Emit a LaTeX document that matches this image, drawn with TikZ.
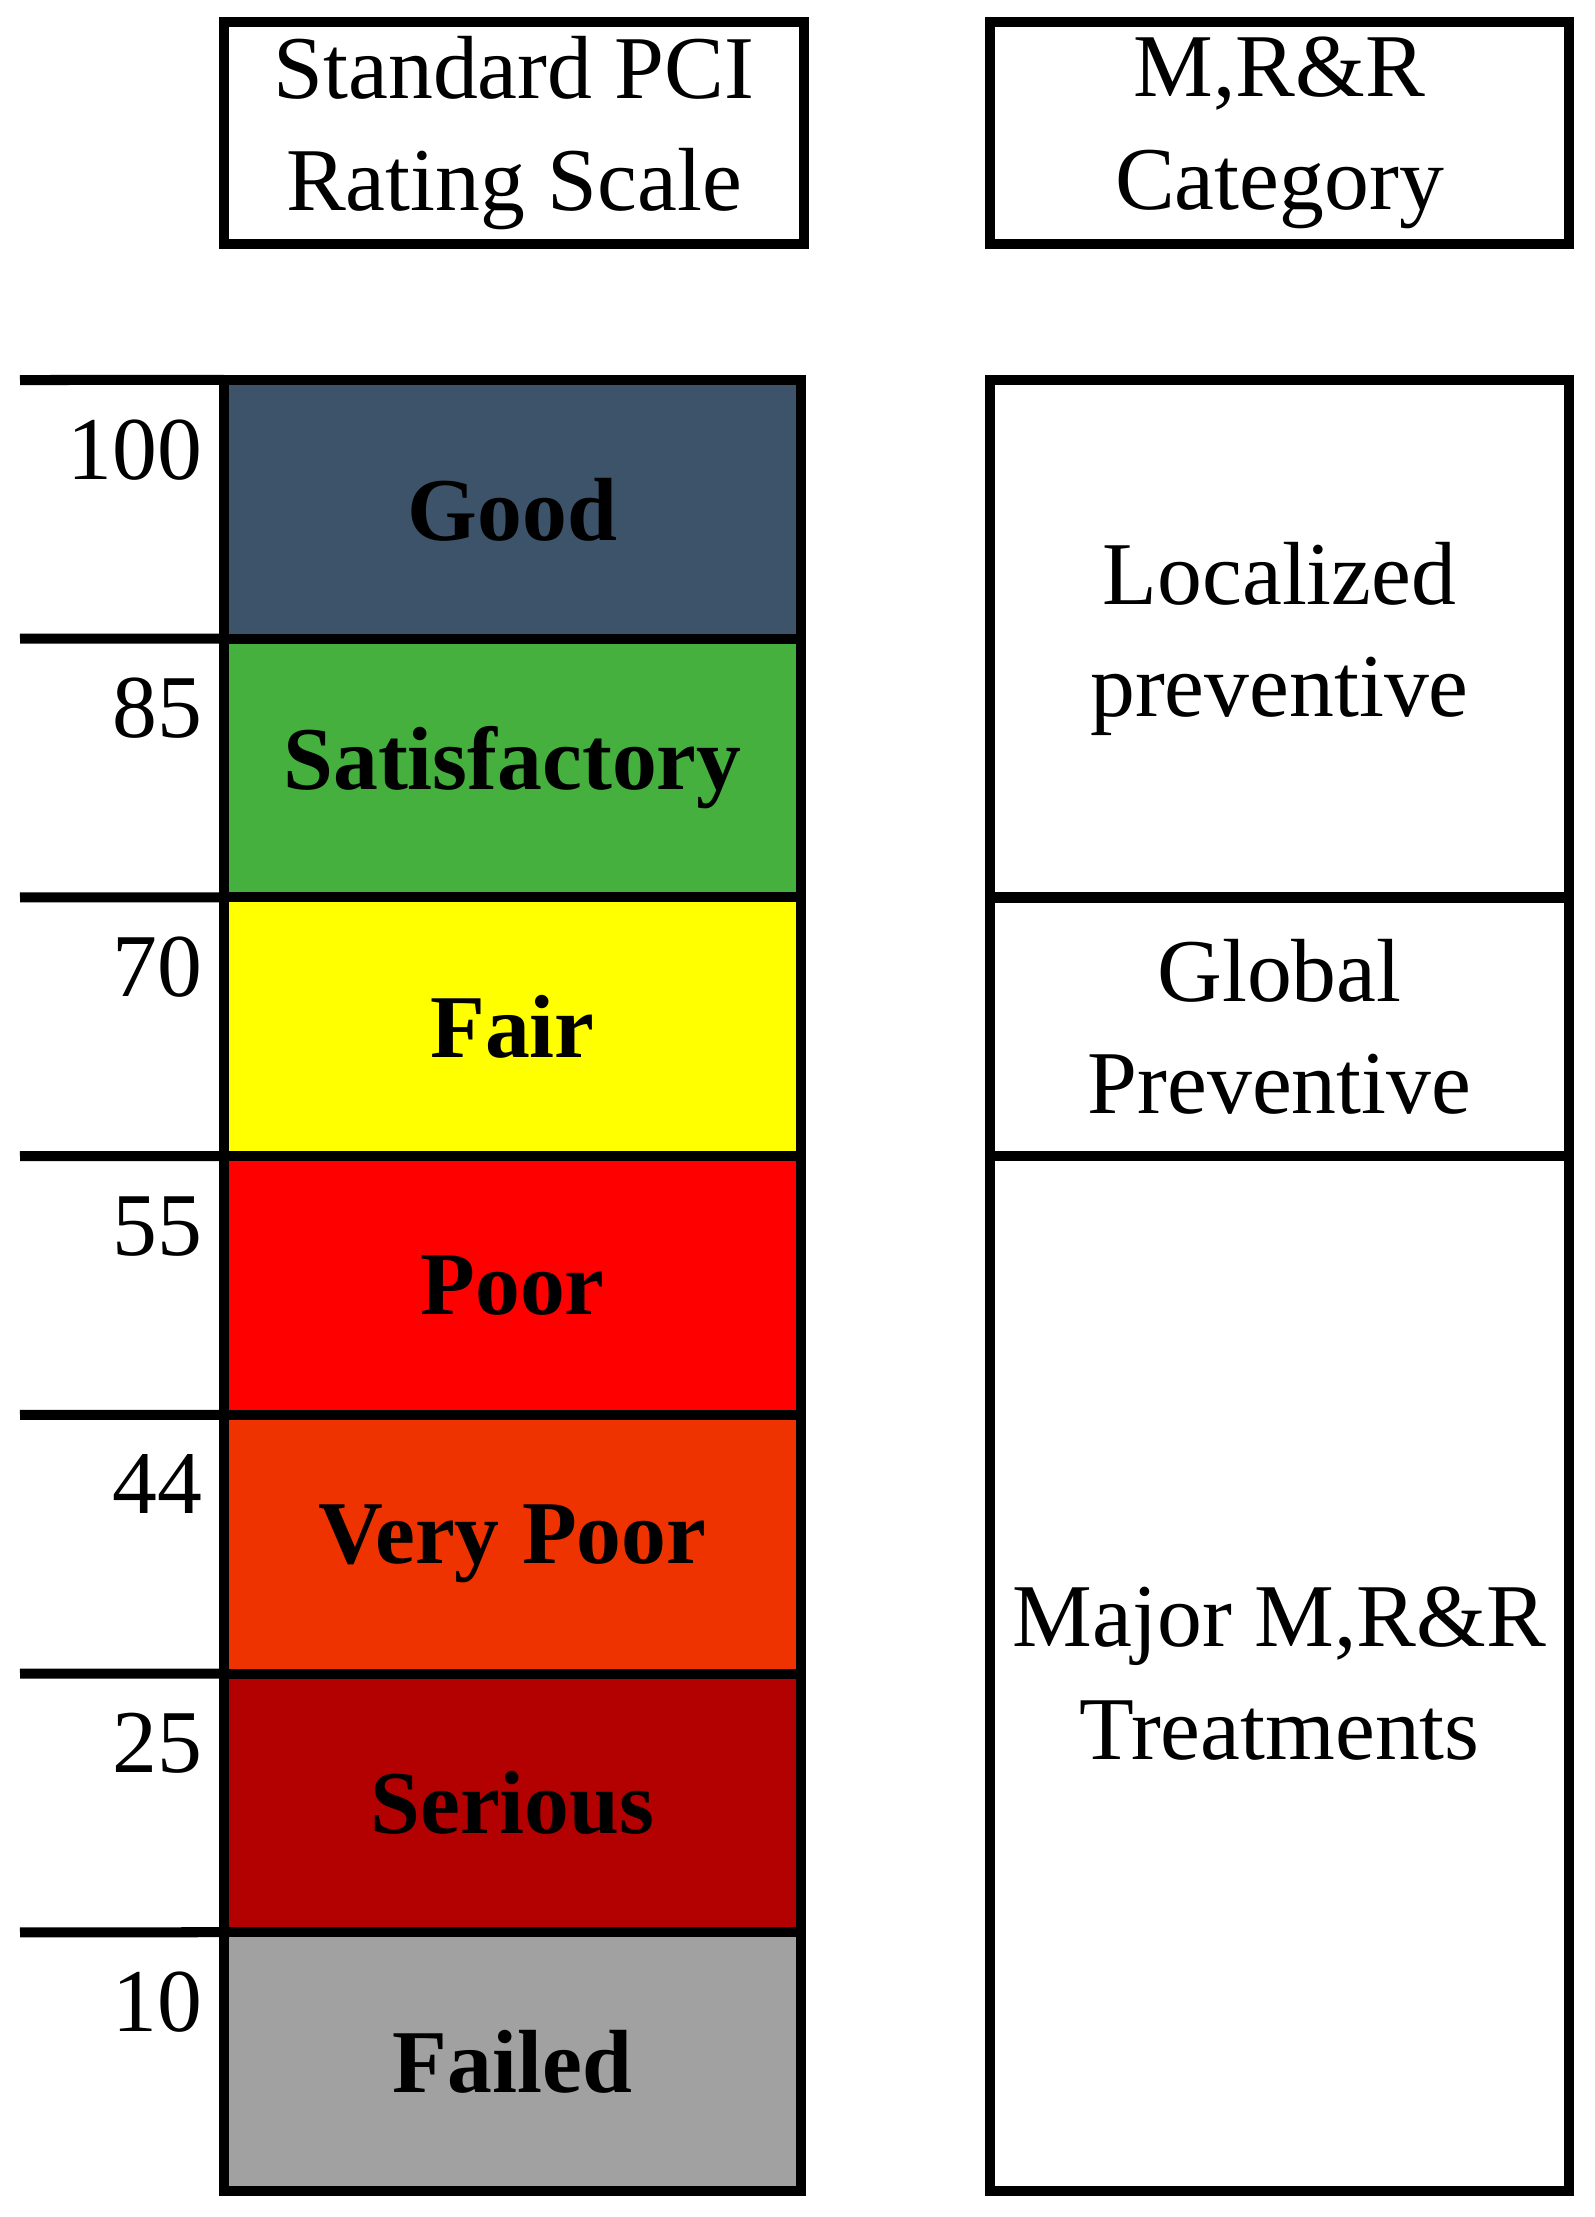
\documentclass[tikz,border=0pt]{standalone}
\usepackage{fontspec}
\setmainfont{Liberation Serif}
\definecolor{cgood}{RGB}{60,83,106}
\definecolor{csat}{RGB}{69,176,62}
\definecolor{cfair}{RGB}{255,255,0}
\definecolor{cpoor}{RGB}{255,0,0}
\definecolor{cvpoor}{RGB}{238,51,0}
\definecolor{cserious}{RGB}{179,0,0}
\definecolor{cfailed}{RGB}{161,161,161}
\begin{document}
\begin{tikzpicture}[x=0.01cm,y=-0.01cm,line width=0.1cm,
  bigtext/.style={font=\fontsize{25.5}{32}\selectfont},
  headbox/.style={draw, rectangle, inner sep=0pt, outer sep=0pt, minimum height=2.22cm, align=center, bigtext},
  band/.style={draw, rectangle, inner sep=0pt, outer sep=0pt, minimum width=5.77cm, minimum height=2.5871cm, font=\fontsize{25.5}{32}\selectfont\bfseries},
  catbox/.style={draw, rectangle, inner sep=0pt, outer sep=0pt, minimum width=5.79cm, align=center, bigtext},
  num/.style={anchor=base east, inner sep=0pt, bigtext},
  tickline/.style={line width=0.1cm}]
\useasboundingbox (0,0) rectangle (1595,2217);
% headers
\node[headbox, minimum width=5.8cm] (h1) at (514,133) {Standard PCI\\Rating Scale};
\node[headbox, minimum width=5.79cm] (h2) at (1279.5,133) {M,R\&R\\Category};
% bands
\node[band, fill=cgood]    (b1) at (512.5,509.36)  {Good};
\node[band, fill=csat]     (b2) at (512.5,768.07)  {Satisfactory};
\node[band, fill=cfair]    (b3) at (512.5,1026.79) {Fair};
\node[band, fill=cpoor]    (b4) at (512.5,1285.5)  {Poor};
\node[band, fill=cvpoor]   (b5) at (512.5,1544.21) {Very Poor};
\node[band, fill=cserious] (b6) at (512.5,1802.93) {Serious};
\node[band, fill=cfailed]  (b7) at (512.5,2061.64) {Failed};
% ticks
\foreach \i/\yy in {1/380,2/638.71,3/897.43,4/1156.14,5/1414.86,6/1673.57,7/1932.29}{
  \coordinate (t\i) at (20,\yy);
  \draw[tickline] (t\i) -- (b\i.north west);
}
% numbers
\node[num] (n1) at (207,479)    {100};
\node[num] (n2) at (207,737.7)  {85};
\node[num] (n3) at (207,996.4)  {70};
\node[num] (n4) at (207,1255.1) {55};
\node[num] (n5) at (207,1513.9) {44};
\node[num] (n6) at (207,1772.6) {25};
\node[num] (n7) at (207,2031.3) {10};
% categories
\node[catbox, minimum height=5.1743cm] (c1) at (1279.5,638.71) {Localized\\preventive};
\node[catbox, minimum height=2.5871cm] (c2) at (1279.5,1026.79) {Global\\Preventive};
\node[catbox, minimum height=10.3486cm] (c3) at (1279.5,1673.57) {Major M,R\&R\\Treatments};
\end{tikzpicture}
\end{document}
